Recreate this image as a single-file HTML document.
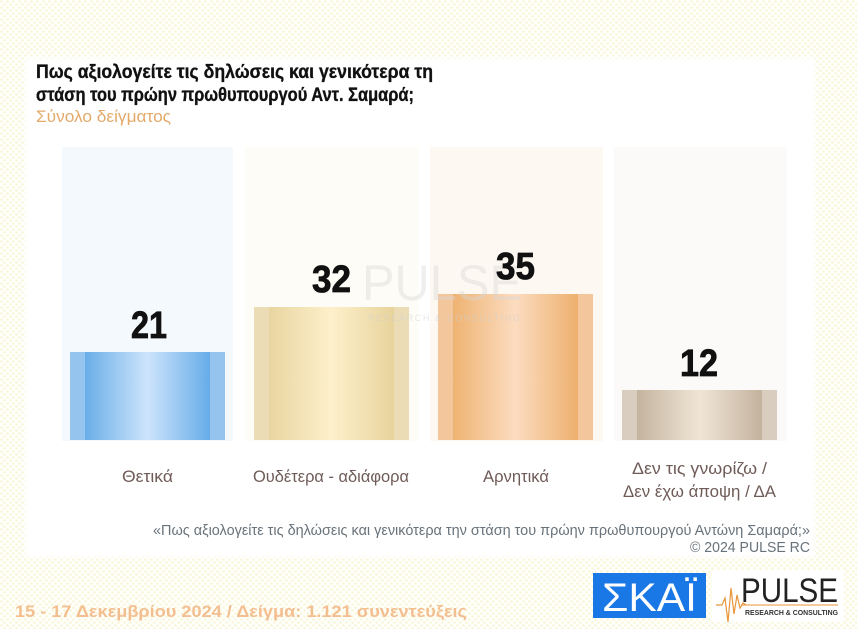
<!DOCTYPE html>
<html>
<head>
<meta charset="utf-8">
<style>
  html, body { margin: 0; padding: 0; background: #ffffff; }
  svg { display: block; }
  text { font-family: "Liberation Sans", "Noto Sans CJK SC", sans-serif; }
</style>
</head>
<body>
<svg width="857" height="629" viewBox="0 0 857 629" xmlns="http://www.w3.org/2000/svg">
  <defs>
    <pattern id="dots" x="0" y="0" width="6" height="6" patternUnits="userSpaceOnUse">
      <rect width="6" height="6" fill="#fffffc"/>
      <circle cx="1.5" cy="1.5" r="1.3" fill="#f8f5d8"/>
      <circle cx="4.5" cy="4.5" r="1.3" fill="#f8f5d8"/>
    </pattern>
    <filter id="soft" x="-5%" y="-5%" width="110%" height="110%">
      <feGaussianBlur stdDeviation="2"/>
    </filter>
    <linearGradient id="g1" x1="0" x2="1" y1="0" y2="0">
      <stop offset="0" stop-color="#6aaee8"/>
      <stop offset="0.5" stop-color="#cde4fb"/>
      <stop offset="1" stop-color="#66ace8"/>
    </linearGradient>
    <linearGradient id="g2" x1="0" x2="1" y1="0" y2="0">
      <stop offset="0" stop-color="#e9d5a0"/>
      <stop offset="0.5" stop-color="#fdf0cb"/>
      <stop offset="1" stop-color="#e8d39c"/>
    </linearGradient>
    <linearGradient id="g3" x1="0" x2="1" y1="0" y2="0">
      <stop offset="0" stop-color="#eeb372"/>
      <stop offset="0.5" stop-color="#fcdcc0"/>
      <stop offset="1" stop-color="#edb06e"/>
    </linearGradient>
    <linearGradient id="g4" x1="0" x2="1" y1="0" y2="0">
      <stop offset="0" stop-color="#c4b49f"/>
      <stop offset="0.5" stop-color="#f0e5d5"/>
      <stop offset="1" stop-color="#c3b39e"/>
    </linearGradient>
  </defs>

  <!-- background -->
  <rect x="0" y="0" width="857" height="629" fill="url(#dots)"/>
  <rect x="25" y="58" width="790" height="499" fill="#ffffff" filter="url(#soft)"/>
  <rect x="27" y="60" width="786" height="495" fill="#ffffff"/>

  <!-- title -->
  <text x="36" y="78" font-size="19" font-weight="bold" fill="#111111" stroke="#111111" stroke-width="0.35" textLength="397" lengthAdjust="spacingAndGlyphs">Πως αξιολογείτε τις δηλώσεις και γενικότερα τη</text>
  <text x="36" y="101" font-size="19" font-weight="bold" fill="#111111" stroke="#111111" stroke-width="0.35" textLength="378" lengthAdjust="spacingAndGlyphs">στάση του πρώην πρωθυπουργού Αντ. Σαμαρά;</text>
  <text x="36" y="122" font-size="16.5" fill="#e3aa6a" textLength="135" lengthAdjust="spacingAndGlyphs">Σύνολο δείγματος</text>

  <!-- column backgrounds -->
  <rect x="62" y="147" width="171" height="294" fill="#f4f9fd"/>
  <rect x="245" y="147" width="173" height="294" fill="#fefcf6"/>
  <rect x="430" y="147" width="173" height="294" fill="#fdf8f2"/>
  <rect x="614" y="147" width="173" height="294" fill="#fbfaf8"/>

  <!-- bars -->
  <rect x="70" y="352" width="155" height="88" fill="#95c5ee"/>
  <rect x="85" y="352" width="125" height="88" fill="url(#g1)"/>

  <rect x="254" y="307" width="155" height="133" fill="#ecdcb6"/>
  <rect x="269" y="307" width="125" height="133" fill="url(#g2)"/>

  <rect x="438" y="294" width="155" height="146" fill="#f3c79b"/>
  <rect x="453" y="294" width="125" height="146" fill="url(#g3)"/>

  <rect x="622" y="390" width="155" height="50" fill="#d8cdbf"/>
  <rect x="637" y="390" width="125" height="50" fill="url(#g4)"/>

  <!-- watermark -->
  <text x="362" y="300" font-size="50" fill="#d8d8d8" fill-opacity="0.4" textLength="160" lengthAdjust="spacingAndGlyphs">PULSE</text>
  <text x="368" y="321" font-size="9" fill="#cfcfcf" fill-opacity="0.5" textLength="152" lengthAdjust="spacing">RESEARCH &amp; CONSULTING</text>

  <!-- values -->
  <text x="131" y="338" font-size="38" font-weight="bold" fill="#111111" stroke="#111111" stroke-width="0.8" textLength="36" lengthAdjust="spacingAndGlyphs">21</text>
  <text x="312" y="292" font-size="38" font-weight="bold" fill="#111111" stroke="#111111" stroke-width="0.8" textLength="39" lengthAdjust="spacingAndGlyphs">32</text>
  <text x="496" y="279" font-size="38" font-weight="bold" fill="#111111" stroke="#111111" stroke-width="0.8" textLength="39" lengthAdjust="spacingAndGlyphs">35</text>
  <text x="680" y="376" font-size="38" font-weight="bold" fill="#111111" stroke="#111111" stroke-width="0.8" textLength="38" lengthAdjust="spacingAndGlyphs">12</text>

  <!-- category labels -->
  <text x="122" y="482" font-size="17" fill="#6f5b57" textLength="51" lengthAdjust="spacingAndGlyphs">Θετικά</text>
  <text x="253" y="482" font-size="17" fill="#6f5b57" textLength="156" lengthAdjust="spacingAndGlyphs">Ουδέτερα - αδιάφορα</text>
  <text x="483" y="482" font-size="17" fill="#6f5b57" textLength="66" lengthAdjust="spacingAndGlyphs">Αρνητικά</text>
  <text x="632" y="474" font-size="17" fill="#6f5b57" textLength="135" lengthAdjust="spacingAndGlyphs">Δεν τις γνωρίζω /</text>
  <text x="623" y="497" font-size="17" fill="#6f5b57" textLength="153" lengthAdjust="spacingAndGlyphs">Δεν έχω άποψη / ΔΑ</text>

  <!-- footnote -->
  <text x="153" y="535" font-size="15" fill="#68727a" textLength="657" lengthAdjust="spacingAndGlyphs">«Πως αξιολογείτε τις δηλώσεις και γενικότερα την στάση του πρώην πρωθυπουργού Αντώνη Σαμαρά;»</text>
  <text x="690" y="552" font-size="15" fill="#68727a" textLength="120" lengthAdjust="spacingAndGlyphs">©  2024  PULSE RC</text>

  <!-- bottom line -->
  <text x="15" y="617" font-size="17" font-weight="bold" fill="#f3bf90" textLength="452" lengthAdjust="spacingAndGlyphs">15 - 17 Δεκεμβρίου 2024  /  Δείγμα:  1.121 συνεντεύξεις</text>

  <!-- SKAI logo -->
  <rect x="593" y="573" width="113" height="45" fill="#1a78e6"/>
  <text x="602" y="611" font-size="40" fill="#ffffff" textLength="95" lengthAdjust="spacingAndGlyphs">ΣΚΑΪ</text>

  <!-- PULSE logo -->
  <rect x="712" y="570" width="132" height="52" fill="#ffffff"/>
  <text x="741" y="602" font-size="34" fill="#222222" textLength="97" lengthAdjust="spacingAndGlyphs">PULSE</text>
  <line x1="741" y1="605" x2="838" y2="605" stroke="#e8963a" stroke-width="1"/>
  <text x="745" y="615" font-size="7" font-weight="bold" fill="#333333" textLength="93" lengthAdjust="spacingAndGlyphs">RESEARCH &amp; CONSULTING</text>
  <polyline points="716,605 722,605 725,598 728,622 731,588 734,614 737,595 740,608 743,603 746,605" fill="none" stroke="#e8963a" stroke-width="1.2"/>
</svg>
</body>
</html>
